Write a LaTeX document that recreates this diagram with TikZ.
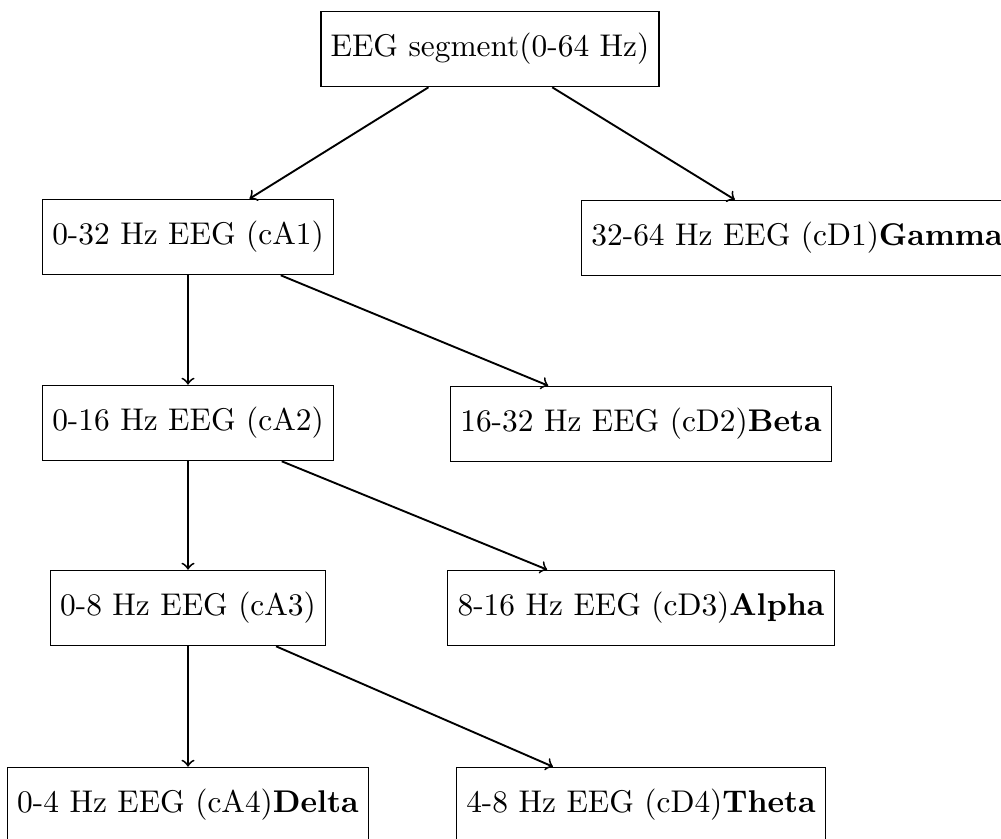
\documentclass[tikz,border=0pt]{standalone}
\begin{document}
\begin{tikzpicture}[x=0.3185pt,y=-0.3185pt,
  box/.style={draw,rectangle,minimum height=24pt,inner xsep=3.1pt,font=\normalsize},
  arr/.style={->,semithick}]
\useasboundingbox (0,0) rectangle (1001,838);
\node[box] (seg) at (490,49) {EEG segment(0-64 Hz)};
\node[box] (cA1) at (188,237) {0-32 Hz EEG (cA1)};
\node[box] (cD1) at (797,238) {32-64 Hz EEG (cD1)\textbf{Gamma}};
\node[box] (cA2) at (188,423) {0-16 Hz EEG (cA2)};
\node[box] (cD2) at (641,424) {16-32 Hz EEG (cD2)\textbf{Beta}};
\node[box] (cA3) at (188,608) {0-8 Hz EEG (cA3)};
\node[box] (cD3) at (641,608) {8-16 Hz EEG (cD3)\textbf{Alpha}};
\node[box] (cA4) at (188,805) {0-4 Hz EEG (cA4)\textbf{Delta}};
\node[box] (cD4) at (641,805) {4-8 Hz EEG (cD4)\textbf{Theta}};
\draw[arr] (seg) -- (cA1);
\draw[arr] (seg) -- (cD1);
\draw[arr] (cA1) -- (cA2);
\draw[arr] (cA1) -- (cD2);
\draw[arr] (cA2) -- (cA3);
\draw[arr] (cA2) -- (cD3);
\draw[arr] (cA3) -- (cA4);
\draw[arr] (cA3) -- (cD4);
\end{tikzpicture}
\end{document}
